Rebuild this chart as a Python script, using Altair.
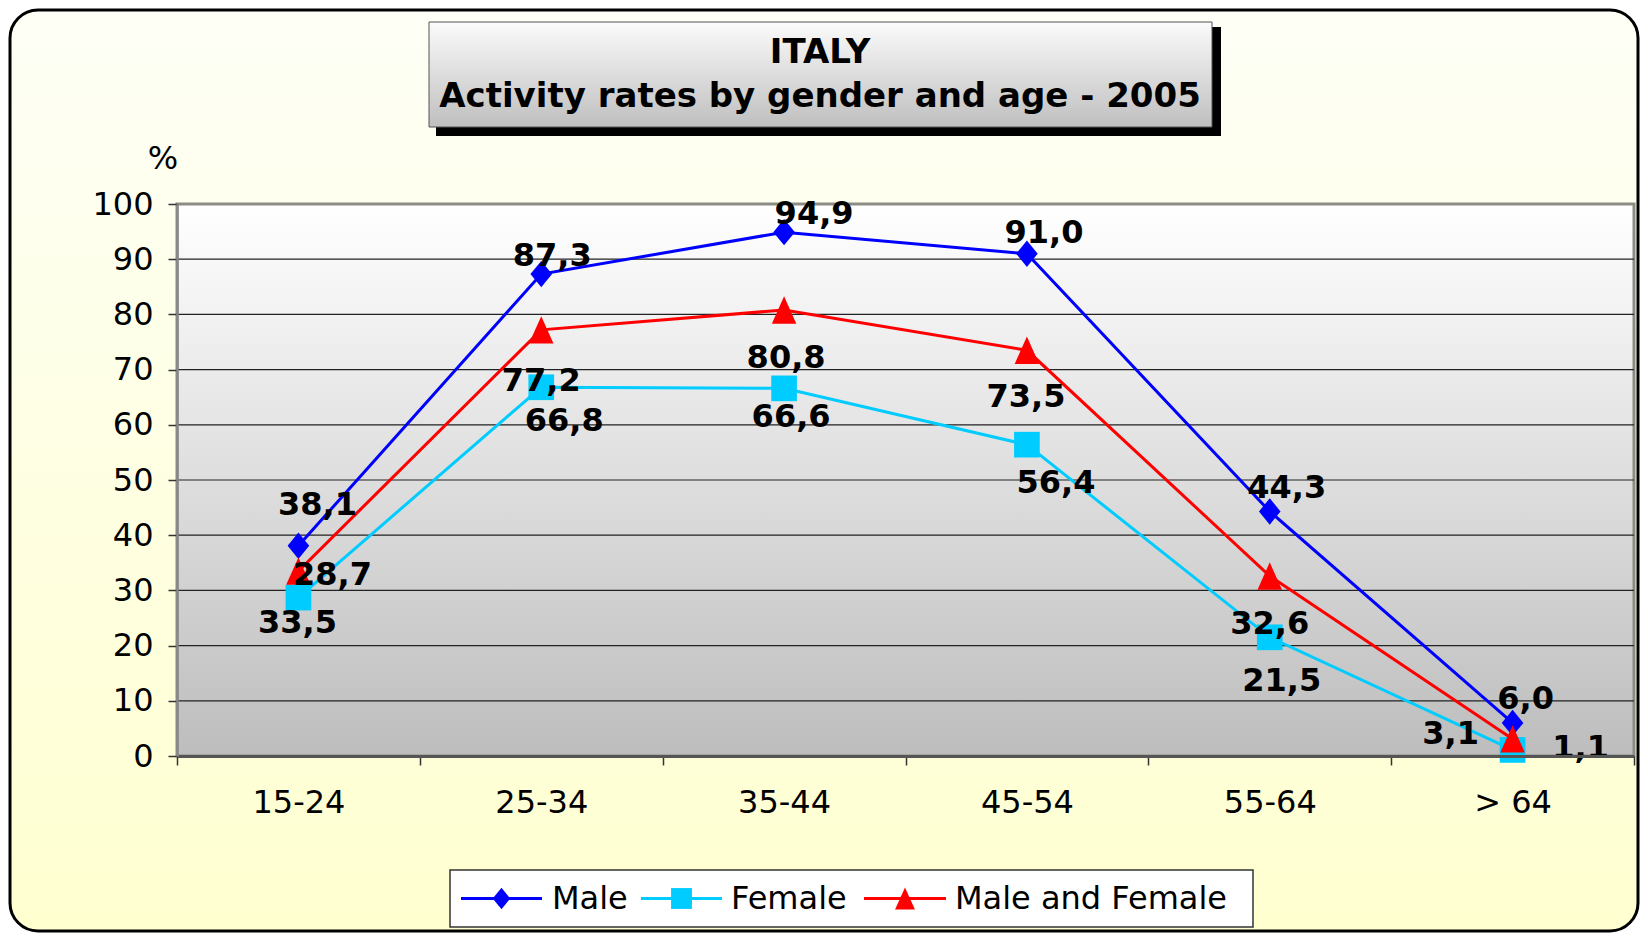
import altair as alt
import pandas as pd

# ---------------- data ----------------
categories = ["15-24", "25-34", "35-44", "45-54", "55-64", "> 64"]
series_names = ["Male", "Female", "Male and Female"]
male = [38.1, 87.3, 94.9, 91.0, 44.3, 6.0]
female = [28.7, 66.8, 66.6, 56.4, 21.5, 1.1]
male_female = [33.5, 77.2, 80.8, 73.5, 32.6, 3.1]
y_ticks = [0, 10, 20, 30, 40, 50, 60, 70, 80, 90, 100]
title_lines = ["ITALY", "Activity rates by gender and age - 2005"]
y_unit = "%"

# ---------------- styling ----------------
W, H = 1457, 552
FONT = "DejaVu Sans"
colors = ["#0000FF", "#00CCFF", "#FF0000"]
marker_paths = [
    "M0,-1.1L0.9,0L0,1.1L-0.9,0Z",                 # diamond
    "M-1.07,-1.07H1.07V1.07H-1.07Z",               # square
    "M0,-1.14L1.02,1.14L-1.02,1.14Z",              # triangle
]
# pixel nudges of the value labels relative to their points
label_nudges = {
    "Male": [(19, -41), (11, -18), (30, -18), (17, -21), (17, -23), (13, -24)],
    "Female": [(34, -23), (23, 34), (7, 29), (29, 38), (12, 44), (68, -2)],
    "Male and Female": [(-1, 52), (0, 51), (2, 48), (-1, 47), (0, 48), (-62, -5)],
}
# legend layout (plot-relative px): line start, line end, text start
legend_slots = [(284, 365, 375), (464, 545, 554), (687, 769, 778)]
legend_box = (273, 1076, 666, 723)

rows = []
for name, vals in zip(series_names, [male, female, male_female]):
    for i, (c, v) in enumerate(zip(categories, vals)):
        rows.append({"series": name, "age": c, "idx": i, "value": v,
                     "label": f"{v:.1f}".replace(".", ",")})
df = pd.DataFrame(rows)
one = pd.DataFrame({"k": [0]})

x_enc = alt.X(
    "age:N", sort=categories,
    scale=alt.Scale(type="band", paddingInner=0, paddingOuter=0),
    axis=alt.Axis(title=None, labelAngle=0, tickBand="extent", tickSize=9,
                  tickColor="#333333", tickWidth=1.5, domainColor="#555555",
                  domainWidth=3, labelFontSize=32, labelFont=FONT,
                  labelColor="black", labelPadding=22, labelBaseline="top",
                  grid=False, zindex=1),
)
y_enc = alt.Y(
    "value:Q",
    scale=alt.Scale(domain=[0, 100], nice=False, zero=True),
    axis=alt.Axis(title=None, values=y_ticks, tickSize=9, tickColor="#333333",
                  tickWidth=1.5, domainColor="#888888", domainWidth=2.5,
                  labelFontSize=32, labelFont=FONT, labelColor="black",
                  labelPadding=15, grid=False, zindex=1),
)
color_scale = alt.Scale(domain=series_names, range=colors)

# ---------------- decorative layers ----------------
frame = alt.Chart(one).mark_rect(
    cornerRadius=28, stroke="black", strokeWidth=3,
    fill=alt.LinearGradient(gradient="linear", x1=0, x2=0, y1=0, y2=1,
                            stops=[alt.GradientStop(color="#FEFFF6", offset=0),
                                   alt.GradientStop(color="#FFFFD0", offset=1)]),
).encode(x=alt.value(-167), x2=alt.value(1461), y=alt.value(-194), y2=alt.value(727))

title_shadow = alt.Chart(one).mark_rect(fill="black").encode(
    x=alt.value(259), x2=alt.value(1044), y=alt.value(-177), y2=alt.value(-68))
title_box = alt.Chart(one).mark_rect(
    stroke="#555555", strokeWidth=1,
    fill=alt.LinearGradient(gradient="linear", x1=0, x2=0, y1=0, y2=1,
                            stops=[alt.GradientStop(color="#FBFBFB", offset=0),
                                   alt.GradientStop(color="#BFBFBF", offset=1)]),
).encode(x=alt.value(252), x2=alt.value(1035), y=alt.value(-182), y2=alt.value(-77))

def free_text(txt, x, y, size, bold=False, align="center"):
    return alt.Chart(one).mark_text(
        font=FONT, fontWeight="bold" if bold else "normal", fontSize=size,
        color="black", align=align, baseline="middle",
    ).encode(x=alt.value(x), y=alt.value(y), text=alt.value(txt))

title_text1 = free_text(title_lines[0], 643, -151, 34, bold=True)
title_text2 = free_text(title_lines[1], 643, -107, 34, bold=True)
unit_text = free_text(y_unit, -14, -45, 32)

plot_bg = alt.Chart(one).mark_rect(
    stroke="#8C8C84", strokeWidth=3,
    fill=alt.LinearGradient(gradient="linear", x1=0, x2=0, y1=0, y2=1,
                            stops=[alt.GradientStop(color="#FFFFFF", offset=0),
                                   alt.GradientStop(color="#BDBDBD", offset=1)]),
).encode(x=alt.value(0), x2=alt.value(W), y=alt.value(0), y2=alt.value(H))

grid = alt.Chart(pd.DataFrame({"value": y_ticks[1:-1]})).mark_rule(
    color="#222222", strokeWidth=1.2,
).encode(y=y_enc, x=alt.value(0), x2=alt.value(W))

# ---------------- data layers ----------------
lines = alt.Chart(df).mark_line(strokeWidth=3).encode(
    x=x_enc, y=y_enc,
    color=alt.Color("series:N", sort=series_names, scale=color_scale, legend=None),
    order=alt.Order("idx:Q"),
)
points = alt.Chart(df).mark_point(filled=True, opacity=1, size=576, strokeWidth=0).encode(
    x=x_enc, y=y_enc,
    color=alt.Color("series:N", sort=series_names, scale=color_scale, legend=None),
    shape=alt.Shape("series:N", scale=alt.Scale(domain=series_names, range=marker_paths),
                    legend=None),
)

label_layers = []
for name in series_names:
    for i, c in enumerate(categories):
        dx, dy = label_nudges[name][i]
        label_layers.append(
            alt.Chart(df).transform_filter(
                (alt.datum.series == name) & (alt.datum.age == c)
            ).mark_text(
                font=FONT, fontWeight="bold", fontSize=32, color="black",
                align="center", baseline="middle", dx=dx, dy=dy,
            ).encode(x=x_enc, y=y_enc, text="label:N")
        )

# ---------------- legend ----------------
lx0, lx1, ly0, ly1 = legend_box
ly = (ly0 + ly1) / 2
legend_layers = [
    alt.Chart(one).mark_rect(fill="white", stroke="#333333", strokeWidth=1.5).encode(
        x=alt.value(lx0), x2=alt.value(lx1), y=alt.value(ly0), y2=alt.value(ly1))
]
for name, col, path, (a, b, t) in zip(series_names, colors, marker_paths, legend_slots):
    legend_layers.append(alt.Chart(one).mark_rule(color=col, strokeWidth=3).encode(
        x=alt.value(a), x2=alt.value(b), y=alt.value(ly)))
    legend_layers.append(alt.Chart(one).mark_point(
        filled=True, opacity=1, color=col, shape=path, size=380, strokeWidth=0,
    ).encode(x=alt.value((a + b) / 2), y=alt.value(ly)))
    legend_layers.append(free_text(name, t, ly, 32, align="left"))

chart = alt.layer(
    frame, title_shadow, title_box, title_text1, title_text2, unit_text,
    plot_bg, grid, lines, points, *label_layers, *legend_layers,
).properties(
    width=W, height=H, padding=0,
).configure_view(stroke=None)

chart.save("out.html", embed_options={"renderer": "svg", "actions": False})
